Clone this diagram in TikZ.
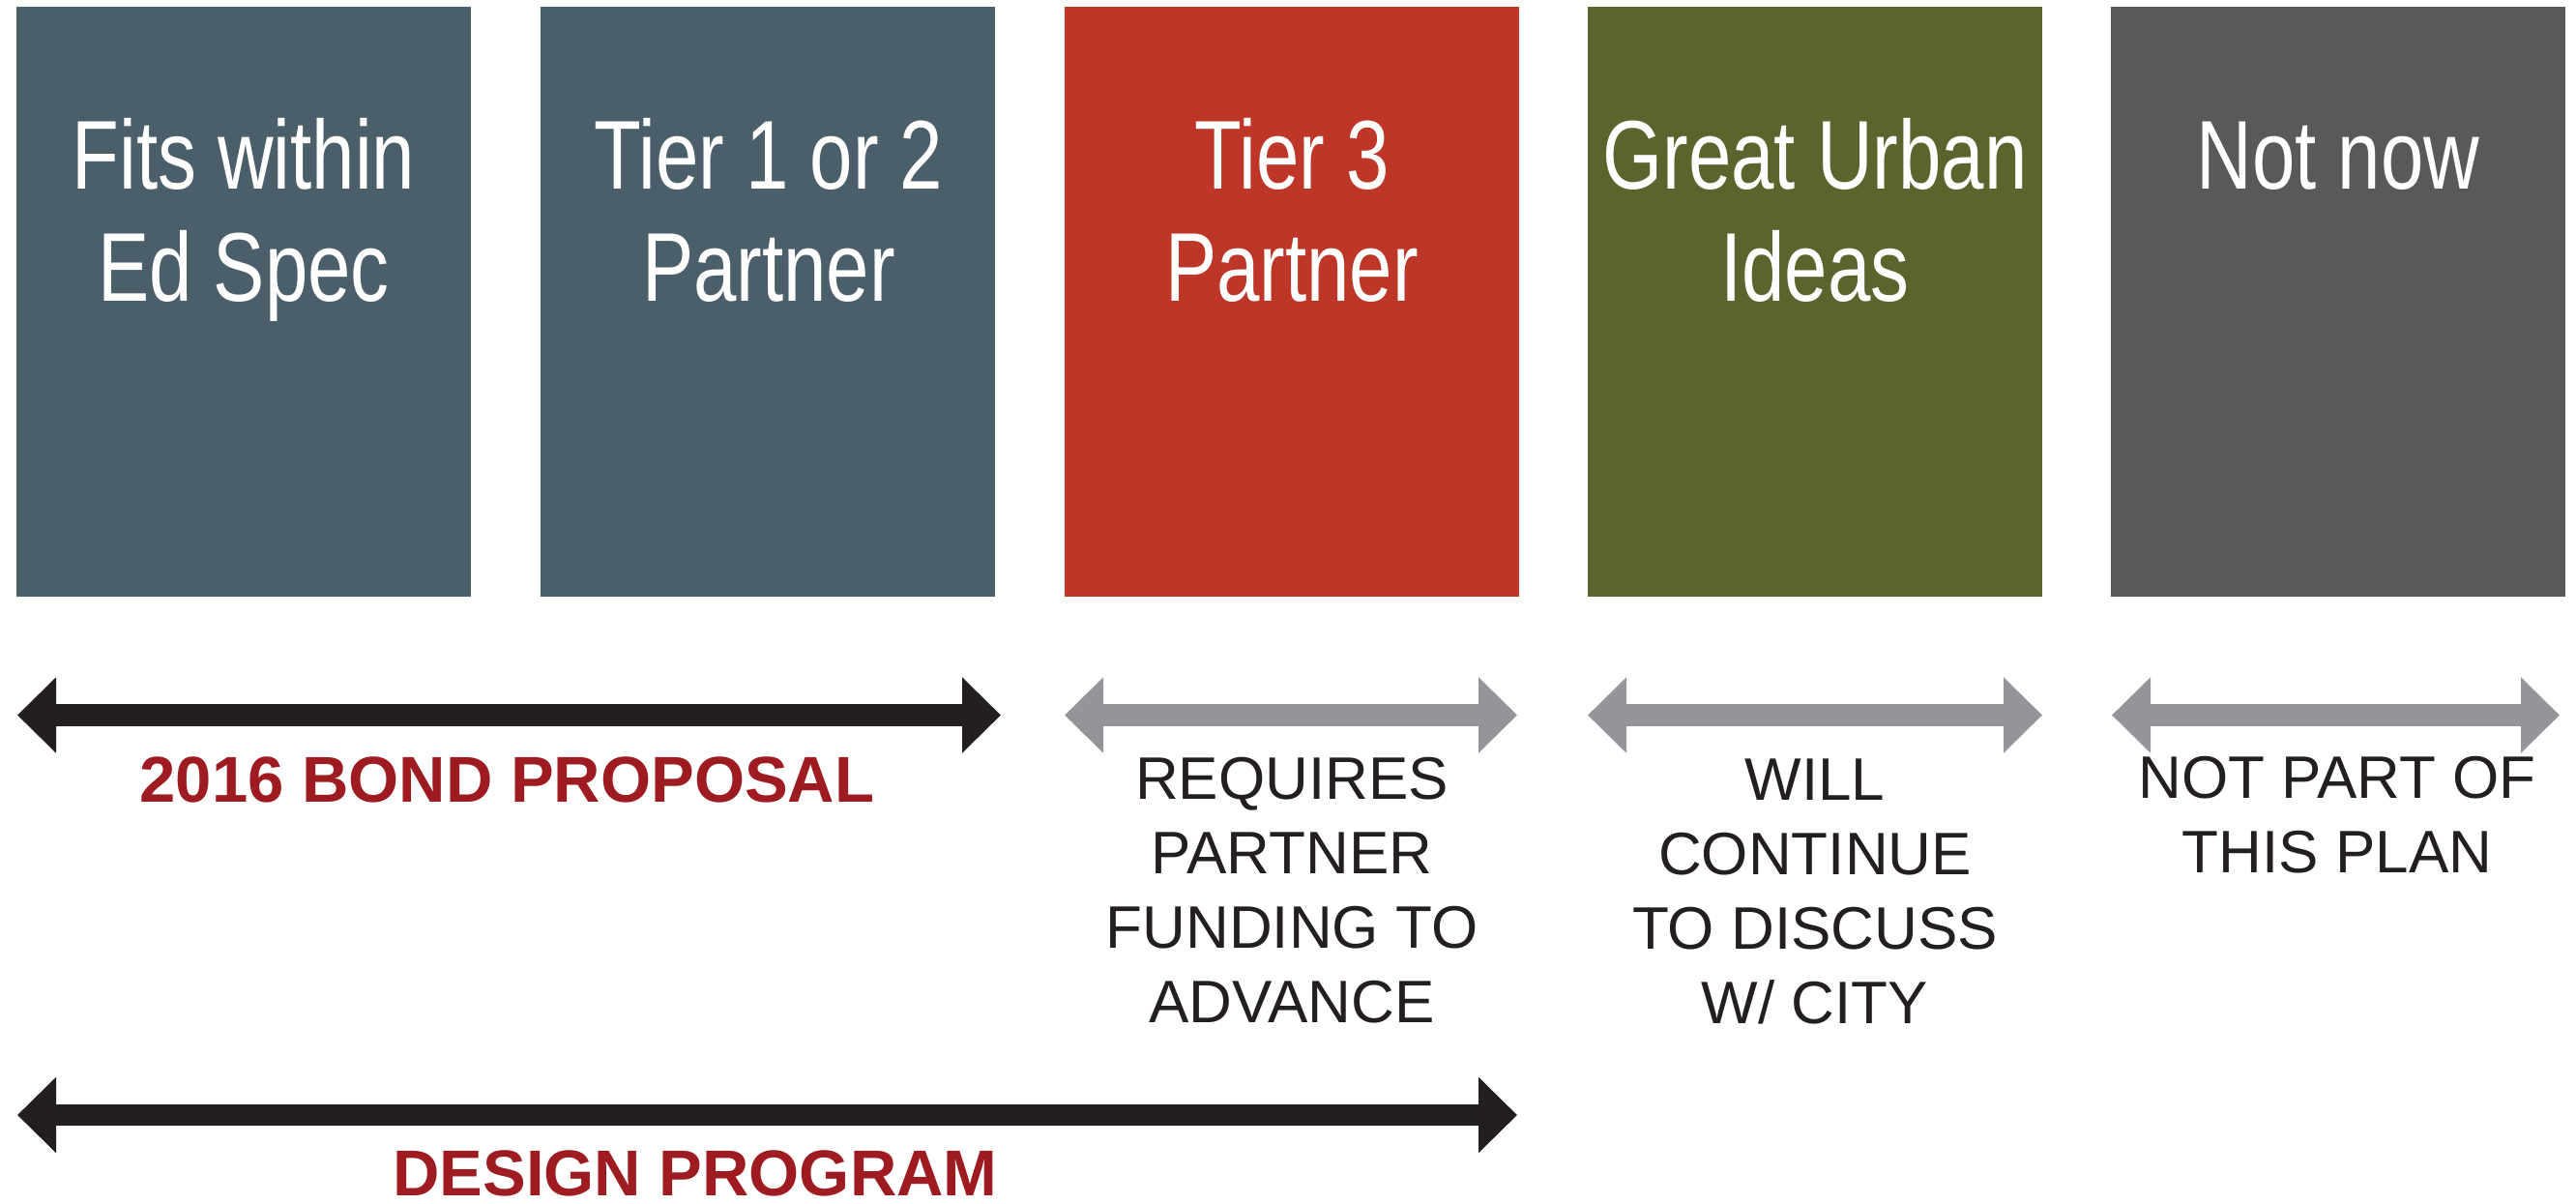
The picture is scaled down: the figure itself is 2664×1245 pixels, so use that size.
\documentclass[tikz,border=0pt]{standalone}
\usepackage{fontspec}
\setmainfont{Liberation Sans}
\newfontfamily\narrowfont[FakeStretch=0.79]{Liberation Sans}
\usetikzlibrary{arrows.meta,positioning}

\definecolor{slate}{RGB}{75,95,107}
\definecolor{brick}{RGB}{190,54,39}
\definecolor{moss}{RGB}{90,101,45}
\definecolor{charcoal}{RGB}{88,89,91}
\definecolor{arrowgray}{RGB}{147,149,152}
\definecolor{inkblack}{RGB}{35,31,32}
\definecolor{bondred}{RGB}{158,27,33}

\tikzset{every picture/.style={line width=0.75pt}}
\tikzset{
  panel/.style={rectangle, inner sep=0pt, minimum width=235pt, minimum height=305pt},
  paneltext/.style={anchor=base, inner sep=0pt, align=center, text=white, font=\narrowfont\fontsize{50.5}{58}\selectfont},
  spanbar/.style={line width=11.25pt, {Triangle[length=20pt,width=38pt]}-{Triangle[length=20pt,width=38pt]}},
  notetext/.style={anchor=base, inner sep=0pt, align=center, text=inkblack, font=\fontsize{31}{38.5}\selectfont},
  headtext/.style={anchor=base, inner sep=0pt, text=bondred, font=\bfseries\fontsize{33.5}{40}\selectfont}
}

\begin{document}
\begin{tikzpicture}[x=0.5pt,y=0.5pt,yscale=-1,xscale=1]
\useasboundingbox (0,0) rectangle (2664,1245);

%Rectangles
\node [panel, fill=slate] (fits) at (252,312) {};
\node [panel, fill=slate] (tieronetwo) at (793.5,312) {};
\node [panel, fill=brick] (tierthree) at (1336,312) {};
\node [panel, fill=moss] (urban) at (1876.5,312) {};
\node [panel, fill=charcoal] (notnow) at (2418,312) {};

% Text Node (base = last line)
\node [paneltext] (fitslabel) at (252,312) {Fits within\\Ed Spec};
% Text Node
\node [paneltext] (tieronetwolabel) at (795,312) {Tier 1 or 2\\Partner};
% Text Node
\node [paneltext] (tierthreelabel) at (1336,312) {Tier 3\\Partner};
% Text Node
\node [paneltext] (urbanlabel) at (1877,312) {Great Urban\\Ideas};
% Text Node
\node [paneltext] (notnowlabel) at (2418,196) {Not now};

%Straight Lines
\coordinate (bondL) at (18,739.5);
\coordinate (bondR) at (1035,739.5);
\draw [spanbar, inkblack] (bondL) -- (bondR);
%Straight Lines
\coordinate (partnerL) at (1101,739.5);
\coordinate (partnerR) at (1569,739.5);
\draw [spanbar, arrowgray] (partnerL) -- (partnerR);
%Straight Lines
\coordinate (cityL) at (1642,739.5);
\coordinate (cityR) at (2112,739.5);
\draw [spanbar, arrowgray] (cityL) -- (cityR);
%Straight Lines
\coordinate (planL) at (2184,739.5);
\coordinate (planR) at (2647,739.5);
\draw [spanbar, arrowgray] (planL) -- (planR);
%Straight Lines
\coordinate (designL) at (18,1153);
\coordinate (designR) at (1569,1153);
\draw [spanbar, inkblack] (designL) -- (designR);

% Text Node
\node [headtext] (bondtext) at (524.5,829) {2016 BOND PROPOSAL};
% Text Node
\node [notetext] (partnertext) at (1336,1057) {REQUIRES\\PARTNER\\FUNDING TO\\ADVANCE};
% Text Node
\node [notetext] (citytext) at (1877,1058) {WILL\\CONTINUE\\TO DISCUSS\\W/ CITY};
% Text Node
\node [notetext] (plantext) at (2417,902) {NOT PART OF\\THIS PLAN};
% Text Node
\node [headtext] (designtext) at (719,1236) {DESIGN PROGRAM};

\end{tikzpicture}
\end{document}
